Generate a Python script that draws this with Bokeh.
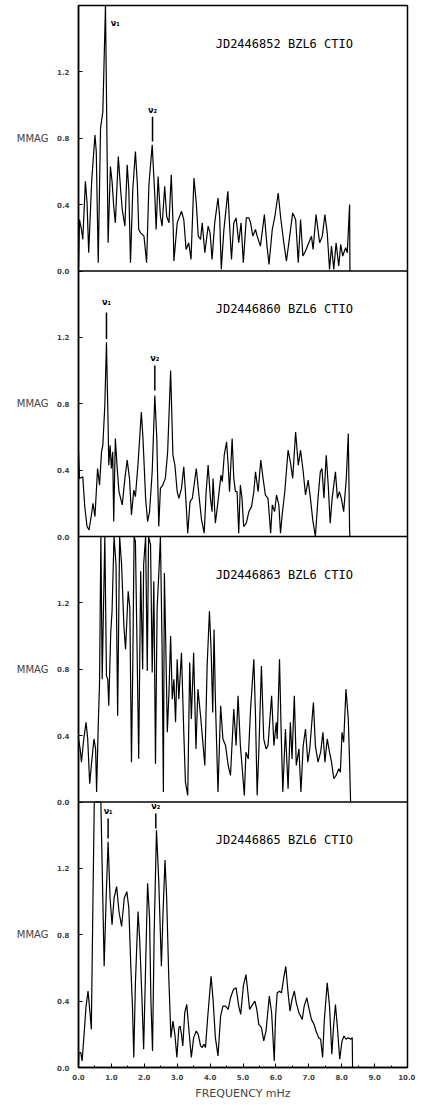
from bokeh.plotting import figure
from bokeh.models import (Range1d, FixedTicker, PrintfTickFormatter, CustomJSTickFormatter,
                          LinearAxis, Span)
from bokeh.embed import file_html
from bokeh.resources import INLINE
from bokeh.core.properties import value

# ---------------- data ----------------
freq1 = [0.00, 0.03, 0.09, 0.13, 0.21, 0.26, 0.31, 0.40, 0.50, 0.54, 0.60, 0.67, 0.74, 0.82, 0.90,
         0.97, 1.02, 1.07, 1.12, 1.21, 1.28, 1.33, 1.41, 1.48, 1.53, 1.58, 1.65, 1.73, 1.79, 1.83,
         1.89, 1.99, 2.07, 2.14, 2.24, 2.32, 2.36, 2.42, 2.49, 2.54, 2.62, 2.68, 2.75, 2.82, 2.88,
         2.90, 3.00, 3.13, 3.20, 3.27, 3.35, 3.42, 3.51, 3.58, 3.64, 3.71, 3.76, 3.84, 3.94, 4.00,
         4.06, 4.14, 4.24, 4.29, 4.34, 4.42, 4.54, 4.60, 4.65, 4.72, 4.79, 4.87, 4.94, 5.01, 5.10,
         5.18, 5.23, 5.30, 5.38, 5.43, 5.53, 5.65, 5.73, 5.79, 5.89, 5.97, 6.07, 6.14, 6.24, 6.32,
         6.42, 6.51, 6.60, 6.68, 6.75, 6.82, 6.90, 7.00, 7.08, 7.13, 7.22, 7.33, 7.41, 7.49, 7.56,
         7.63, 7.69, 7.76, 7.83, 7.91, 7.97, 8.03, 8.12, 8.17, 8.24, 8.25]
mmag1 = [0.02, 0.31, 0.25, 0.19, 0.54, 0.41, 0.11, 0.54, 0.82, 0.72, 0.05, 0.86, 0.96, 1.60, 0.17,
         0.63, 0.54, 0.39, 0.29, 0.69, 0.49, 0.37, 0.27, 0.64, 0.49, 0.05, 0.49, 0.72, 0.52, 0.25,
         0.23, 0.21, 0.05, 0.52, 0.76, 0.45, 0.25, 0.57, 0.33, 0.27, 0.51, 0.33, 0.29, 0.58, 0.25,
         0.06, 0.29, 0.36, 0.31, 0.13, 0.17, 0.07, 0.56, 0.41, 0.21, 0.19, 0.29, 0.11, 0.27, 0.23,
         0.07, 0.29, 0.44, 0.33, 0.01, 0.25, 0.48, 0.25, 0.07, 0.29, 0.32, 0.17, 0.29, 0.05, 0.32,
         0.32, 0.29, 0.21, 0.25, 0.21, 0.15, 0.34, 0.15, 0.04, 0.25, 0.33, 0.47, 0.33, 0.17, 0.06,
         0.21, 0.35, 0.31, 0.05, 0.31, 0.09, 0.12, 0.17, 0.21, 0.13, 0.34, 0.17, 0.21, 0.34, 0.23,
         0.01, 0.15, 0.01, 0.17, 0.03, 0.16, 0.09, 0.14, 0.11, 0.40, 0.00]

freq2 = [0.00, 0.03, 0.13, 0.19, 0.26, 0.32, 0.40, 0.44, 0.50, 0.58, 0.64, 0.70, 0.74, 0.80, 0.85,
         0.90, 0.92, 0.96, 1.00, 1.04, 1.07, 1.12, 1.17, 1.23, 1.33, 1.41, 1.48, 1.55, 1.61, 1.68,
         1.73, 1.81, 1.91, 1.96, 2.04, 2.10, 2.16, 2.24, 2.32, 2.38, 2.44, 2.49, 2.56, 2.64, 2.71,
         2.80, 2.87, 2.93, 3.00, 3.05, 3.13, 3.20, 3.25, 3.32, 3.39, 3.46, 3.58, 3.66, 3.74, 3.82,
         3.88, 3.94, 4.01, 4.06, 4.09, 4.16, 4.24, 4.33, 4.37, 4.43, 4.50, 4.55, 4.59, 4.67, 4.72,
         4.77, 4.82, 4.87, 4.92, 4.97, 5.02, 5.10, 5.18, 5.26, 5.33, 5.38, 5.46, 5.54, 5.61, 5.68,
         5.76, 5.84, 5.89, 5.96, 6.02, 6.09, 6.14, 6.19, 6.27, 6.37, 6.44, 6.51, 6.60, 6.68, 6.75,
         6.83, 6.90, 6.98, 7.05, 7.12, 7.20, 7.28, 7.35, 7.40, 7.46, 7.53, 7.59, 7.65, 7.71, 7.81,
         7.87, 7.93, 7.99, 8.06, 8.14, 8.20, 8.24, 8.25]
mmag2 = [0.51, 0.35, 0.36, 0.18, 0.06, 0.04, 0.14, 0.20, 0.12, 0.41, 0.31, 0.51, 0.55, 0.79, 1.17,
         0.67, 0.43, 0.55, 0.41, 0.51, 0.09, 0.59, 0.43, 0.27, 0.19, 0.35, 0.46, 0.35, 0.13, 0.28,
         0.24, 0.44, 0.75, 0.59, 0.23, 0.09, 0.15, 0.39, 0.85, 0.59, 0.06, 0.29, 0.31, 0.35, 0.51,
         1.00, 0.49, 0.43, 0.27, 0.23, 0.29, 0.42, 0.27, 0.02, 0.21, 0.23, 0.41, 0.25, 0.10, 0.02,
         0.27, 0.43, 0.23, 0.15, 0.35, 0.08, 0.21, 0.37, 0.33, 0.49, 0.57, 0.43, 0.27, 0.59, 0.35,
         0.27, 0.27, 0.02, 0.31, 0.23, 0.06, 0.08, 0.15, 0.18, 0.27, 0.39, 0.27, 0.46, 0.35, 0.25,
         0.23, 0.02, 0.19, 0.15, 0.25, 0.19, 0.02, 0.13, 0.27, 0.52, 0.45, 0.35, 0.63, 0.43, 0.52,
         0.39, 0.25, 0.34, 0.23, 0.10, 0.00, 0.23, 0.39, 0.41, 0.23, 0.49, 0.31, 0.08, 0.23, 0.39,
         0.23, 0.27, 0.23, 0.15, 0.35, 0.62, 0.04, 0.00]

freq3 = [0.00, 0.05, 0.09, 0.11, 0.16, 0.23, 0.28, 0.34, 0.39, 0.47, 0.52, 0.55, 0.60, 0.64, 0.68,
         0.72, 0.80, 0.85, 0.89, 0.92, 0.98, 1.02, 1.08, 1.14, 1.19, 1.25, 1.31, 1.38, 1.43, 1.51,
         1.56, 1.61, 1.65, 1.69, 1.73, 1.78, 1.83, 1.89, 1.95, 1.98, 2.04, 2.09, 2.13, 2.19, 2.24,
         2.29, 2.34, 2.39, 2.44, 2.49, 2.54, 2.58, 2.61, 2.65, 2.70, 2.75, 2.80, 2.85, 2.90, 2.95,
         3.00, 3.05, 3.13, 3.20, 3.25, 3.32, 3.38, 3.43, 3.50, 3.57, 3.63, 3.71, 3.84, 3.91, 3.98,
         4.03, 4.08, 4.12, 4.16, 4.24, 4.32, 4.39, 4.47, 4.55, 4.62, 4.72, 4.79, 4.85, 4.92, 4.97,
         5.04, 5.09, 5.16, 5.23, 5.33, 5.38, 5.43, 5.48, 5.56, 5.63, 5.70, 5.76, 5.87, 5.94, 6.01,
         6.04, 6.11, 6.16, 6.21, 6.29, 6.37, 6.44, 6.49, 6.56, 6.62, 6.70, 6.76, 6.83, 6.90, 6.97,
         7.03, 7.10, 7.14, 7.20, 7.28, 7.36, 7.43, 7.49, 7.56, 7.63, 7.69, 7.76, 7.83, 7.91, 7.96,
         8.01, 8.06, 8.13, 8.20, 8.24, 8.27]
mmag3 = [0.38, 0.32, 0.24, 0.28, 0.38, 0.48, 0.38, 0.11, 0.22, 0.38, 0.32, 0.06, 0.46, 0.72, 1.60,
         0.74, 1.60, 0.76, 0.74, 0.58, 1.02, 1.15, 1.60, 1.43, 0.52, 1.60, 1.43, 1.06, 0.92, 1.27,
         1.17, 0.24, 0.82, 1.60, 1.57, 0.92, 0.26, 1.39, 0.80, 1.43, 1.60, 0.79, 1.60, 1.55, 0.78,
         1.33, 0.23, 1.17, 1.37, 1.60, 0.94, 0.06, 1.38, 0.98, 0.42, 0.66, 1.00, 0.62, 0.74, 0.48,
         0.86, 0.62, 0.90, 0.42, 0.12, 0.04, 0.84, 0.50, 0.90, 0.32, 0.68, 0.52, 0.22, 0.82, 1.15,
         0.92, 0.54, 1.04, 0.62, 0.06, 0.58, 0.38, 0.34, 0.22, 0.16, 0.56, 0.34, 0.64, 0.34, 0.22,
         0.04, 0.30, 0.26, 0.56, 0.86, 0.52, 0.04, 0.30, 0.82, 0.38, 0.32, 0.34, 0.64, 0.34, 0.48,
         0.38, 0.86, 0.42, 0.06, 0.44, 0.08, 0.48, 0.26, 0.64, 0.22, 0.32, 0.06, 0.34, 0.44, 0.24,
         0.32, 0.50, 0.60, 0.34, 0.24, 0.30, 0.42, 0.24, 0.38, 0.30, 0.24, 0.14, 0.16, 0.20, 0.18,
         0.42, 0.36, 0.68, 0.50, 0.24, 0.00]

freq4 = [0.00, 0.01, 0.07, 0.11, 0.17, 0.23, 0.29, 0.35, 0.39, 0.44, 0.48, 0.68, 0.78, 0.84,
         0.90, 0.96, 1.02, 1.08, 1.16, 1.23, 1.31, 1.39, 1.47, 1.53, 1.59, 1.64, 1.68, 1.73, 1.81,
         1.86, 1.93, 1.98, 2.04, 2.10, 2.16, 2.20, 2.25, 2.30, 2.37, 2.44, 2.52, 2.57, 2.63, 2.68,
         2.74, 2.81, 2.87, 2.93, 2.99, 3.05, 3.09, 3.13, 3.17, 3.23, 3.29, 3.35, 3.43, 3.50, 3.58,
         3.64, 3.71, 3.76, 3.81, 3.86, 3.93, 4.03, 4.09, 4.16, 4.24, 4.32, 4.39, 4.47, 4.55, 4.62,
         4.71, 4.79, 4.87, 4.93, 5.01, 5.09, 5.14, 5.20, 5.26, 5.36, 5.42, 5.48, 5.56, 5.63, 5.70,
         5.80, 5.87, 5.95, 5.99, 6.04, 6.11, 6.17, 6.23, 6.30, 6.37, 6.43, 6.49, 6.56, 6.62, 6.70,
         6.80, 6.86, 6.94, 7.00, 7.08, 7.16, 7.22, 7.30, 7.36, 7.42, 7.47, 7.56, 7.63, 7.70, 7.75,
         7.81, 7.87, 7.94, 8.01, 8.07, 8.13, 8.20, 8.27, 8.32, 8.33]
mmag4 = [0.02, 0.09, 0.09, 0.04, 0.20, 0.37, 0.46, 0.33, 0.23, 1.02, 1.60, 1.60, 0.61, 1.02,
         1.36, 1.02, 0.86, 1.02, 1.09, 0.94, 0.85, 1.02, 1.06, 0.96, 0.61, 0.37, 0.06, 0.51, 0.94,
         0.77, 0.41, 0.11, 0.61, 1.11, 0.90, 0.41, 0.10, 0.81, 1.43, 1.12, 0.61, 0.94, 1.25, 1.02,
         0.57, 0.18, 0.28, 0.20, 0.06, 0.24, 0.25, 0.20, 0.13, 0.33, 0.38, 0.24, 0.06, 0.18, 0.22,
         0.20, 0.13, 0.12, 0.14, 0.12, 0.31, 0.55, 0.41, 0.18, 0.07, 0.31, 0.37, 0.37, 0.35, 0.42,
         0.47, 0.48, 0.37, 0.32, 0.49, 0.56, 0.47, 0.35, 0.37, 0.40, 0.35, 0.26, 0.24, 0.16, 0.22,
         0.43, 0.33, 0.04, 0.31, 0.45, 0.46, 0.45, 0.53, 0.61, 0.45, 0.34, 0.41, 0.46, 0.39, 0.33,
         0.29, 0.37, 0.42, 0.36, 0.29, 0.26, 0.22, 0.18, 0.17, 0.06, 0.28, 0.51, 0.37, 0.08, 0.24,
         0.38, 0.24, 0.05, 0.16, 0.19, 0.17, 0.18, 0.17, 0.18, 0.00]

titles = ["JD2446852 BZL6 CTIO", "JD2446860 BZL6 CTIO",
          "JD2446863 BZL6 CTIO", "JD2446865 BZL6 CTIO"]

# nu markers: label text, frequency, label height, line top, line bottom (None = no line)
nu_names = [["\u03bd\u2081", "\u03bd\u2082"], ["\u03bd\u2081", "\u03bd\u2082"], [], ["\u03bd\u2081", "\u03bd\u2082"]]
nu_freq = [[1.12, 2.25], [0.85, 2.32], [], [0.90, 2.35]]
nu_label_mmag = [[1.49, 0.97], [1.41, 1.07], [], [1.54, 1.57]]
nu_line_top = [[None, 0.93], [1.35, 1.03], [], [1.50, 1.53]]
nu_line_bottom = [[None, 0.78], [1.19, 0.88], [], [1.38, 1.44]]

x_ticks = [0, 1, 2, 3, 4, 5, 6, 7, 8, 9, 10]
x_minor = [0.5, 1.5, 2.5, 3.5, 4.5, 5.5, 6.5, 7.5, 8.5, 9.5]
y_ticks = [0.0, 0.4, 0.8, 1.2]
y_top = 1.6          # each panel's MMAG range is 0 .. 1.6
y_label = "MMAG"
x_label = "FREQUENCY mHz"

freqs = [freq1, freq2, freq3, freq4]
mmags = [mmag1, mmag2, mmag3, mmag4]
n_pan = len(freqs)

FONT = "DejaVu Sans"

p = figure(frame_width=329, frame_height=1062,
           x_range=Range1d(0, 10), y_range=Range1d(0, y_top * n_pan),
           output_backend="svg", toolbar_location=None,
           min_border_left=78, min_border_right=8,
           min_border_top=5, min_border_bottom=10,
           background_fill_color="white", border_fill_color="white")
p.grid.visible = False
p.outline_line_color = "black"
p.outline_line_width = 1.5

# one stacked-band scale per panel (panel 0 at the top)
for k in range(n_pan):
    b = n_pan - 1 - k
    p.extra_y_ranges[f"band{k}"] = Range1d(start=-y_top * b, end=y_top * (n_pan - b))

for k in range(n_pan):
    rn = f"band{k}"
    p.line(freqs[k], mmags[k], line_color="black", line_width=1.2, y_range_name=rn)
    p.text(x=[4.17], y=[1.37], text=[titles[k]], text_font=value("DejaVu Sans Mono"),
           text_font_size="12px", text_baseline="middle", text_align="left",
           text_color="black", y_range_name=rn)
    for name, f, ly, lt, lb in zip(nu_names[k], nu_freq[k], nu_label_mmag[k],
                                   nu_line_top[k], nu_line_bottom[k]):
        p.text(x=[f], y=[ly], text=[name], text_font=value(FONT), text_font_size="8px",
               text_baseline="middle", text_align="center", text_color="black",
               text_font_style="bold", y_range_name=rn)
        if lt is not None:
            p.segment(x0=[f], y0=[lt], x1=[f], y1=[lb], line_color="black",
                      line_width=1.5, y_range_name=rn)

# panel separators
for b in range(1, n_pan):
    p.add_layout(Span(location=y_top * b, dimension="width", line_color="black",
                      line_width=1.5))

# inner left axis: tick values repeated in every panel
ya = p.yaxis[0]
ya.ticker = FixedTicker(ticks=[y_top * b + t for b in range(n_pan) for t in y_ticks])
ya.formatter = CustomJSTickFormatter(
    args=dict(top=y_top),
    code="const r = Math.round(tick * 10) % Math.round(top * 10); return (r / 10).toFixed(1);")
ya.major_label_text_font = FONT
ya.major_label_text_font_size = "7px"
ya.major_label_text_font_style = "bold"
ya.major_label_standoff = 9
ya.major_tick_in = 4
ya.major_tick_out = 0
ya.minor_tick_in = 0
ya.minor_tick_out = 0
ya.axis_line_color = "black"
ya.axis_line_width = 1.5

# outer left axis: the MMAG label of every panel
lab_axis = LinearAxis(
    ticker=FixedTicker(ticks=[y_top * b + y_top / 2 for b in range(n_pan)]),
    formatter=CustomJSTickFormatter(args=dict(lab=y_label), code="return lab;"),
    major_label_text_font=FONT, major_label_text_font_size="10px",
    major_label_standoff=6, major_tick_in=0, major_tick_out=0,
    minor_tick_in=0, minor_tick_out=0, axis_line_color=None)
p.add_layout(lab_axis, "left")

# x axis
xa = p.xaxis[0]
xa.ticker = FixedTicker(ticks=x_ticks, minor_ticks=x_minor)
xa.formatter = PrintfTickFormatter(format="%.1f")
xa.major_tick_in = 4
xa.major_tick_out = 0
xa.minor_tick_in = 2
xa.minor_tick_out = 0
xa.axis_line_color = "black"
xa.axis_line_width = 1.5
xa.major_label_text_font = FONT
xa.major_label_text_font_size = "7px"
xa.major_label_text_font_style = "bold"
xa.major_label_standoff = 6
xa.axis_label = x_label
xa.axis_label_text_font = FONT
xa.axis_label_text_font_style = "normal"
xa.axis_label_text_font_size = "11px"
xa.axis_label_standoff = 4

open("out.html", "w").write(file_html(p, INLINE))
